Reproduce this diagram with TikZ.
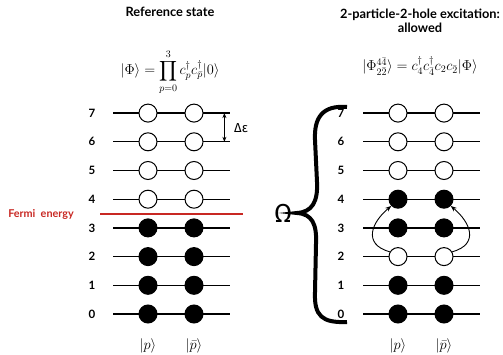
\documentclass[tikz,border=0pt]{standalone}
\usepackage{amsmath, amssymb}
\usepackage[no-math]{fontspec}
\setmainfont{Lato}
\newfontfamily\greekfont{Fira Sans}
\usepackage{xcolor}
\usetikzlibrary{arrows.meta, calc}

\definecolor{fermired}{RGB}{200,40,35}

\begin{document}
\begin{tikzpicture}[
    x=1pt, y=1pt,
    level/.style={draw, line width=1.2pt},
    orbit/.style={circle, draw, line width=1pt, minimum size=18pt, inner sep=0pt},
    empty/.style={orbit, fill=white},
    full/.style={orbit, fill=black},
    levelnum/.style={font=\bfseries\fontsize{11.5}{12}\selectfont},
    heading/.style={font=\bfseries\fontsize{12.8}{14}\selectfont, align=center},
    maths/.style={font=\fontsize{14}{16}\selectfont},
    ket/.style={font=\fontsize{14}{16}\selectfont},
    excite/.style={-{Stealth[length=6pt, width=4.5pt]}, line width=0.9pt},
    spacing/.style={{Stealth[length=5pt, width=4pt]}-{Stealth[length=5pt, width=4pt]}, line width=0.8pt}
]
\useasboundingbox (0,0) rectangle (503,354);

% Headings and formulas
\node[heading] (lefttitle) at (170,342) {Reference state};
\node[heading] (righttitle) at (420,333.5) {2-particle-2-hole excitation:\\allowed};
\node[maths] (leftformula) at (170,282) {$|\Phi\rangle = \displaystyle\prod_{p=0}^{3} c_p^\dagger c_{\bar p}^\dagger |0\rangle$};
\node[maths] (rightformula) at (420,288) {$|\Phi_{2\bar 2}^{4\bar 4}\rangle = c_4^\dagger c_{\bar 4}^\dagger c_2 c_{\bar 2} |\Phi\rangle$};

% Left column: reference state
\foreach \i in {0,...,7} {
    \pgfmathsetmacro{\yy}{40+28.7*\i}
    \coordinate (la\i) at (113,\yy);
    \coordinate (lb\i) at (230,\yy);
    \draw[level] (la\i) -- (lb\i);
    \node[levelnum] (ln\i) at (92,\yy) {\i};
}
\foreach \i in {0,...,3} {
    \pgfmathsetmacro{\yy}{40+28.7*\i}
    \node[full] (lp\i) at (148,\yy) {};
    \node[full] (lq\i) at (194,\yy) {};
}
\foreach \i in {4,...,7} {
    \pgfmathsetmacro{\yy}{40+28.7*\i}
    \node[empty] (lp\i) at (148,\yy) {};
    \node[empty] (lq\i) at (194,\yy) {};
}

% Level spacing
\coordinate (dtop) at ($(la7)!0.952!(lb7)$);
\coordinate (dbot) at ($(la6)!0.952!(lb6)$);
\draw[spacing] (dtop) -- (dbot);
\node[font=\greekfont\fontsize{13}{13}\selectfont] (deps) at (241,226) {Δε};

% Fermi level
\coordinate (fa) at (100,140);
\coordinate (fb) at (243,140);
\draw[fermired, line width=1.2pt] (fa) -- (fb);
\node[font=\bfseries\fontsize{10.8}{12}\selectfont, text=fermired] (fermi) at (41,140) {Fermi\ \ energy};

\node[ket] (lketp) at (148,8) {$|p\rangle$};
\node[ket] (lketq) at (194,8) {$|\bar p\rangle$};

% Right column: excited state
\foreach \i in {0,...,7} {
    \pgfmathsetmacro{\yy}{40+28.7*\i}
    \coordinate (ra\i) at (363,\yy);
    \coordinate (rb\i) at (480,\yy);
    \draw[level] (ra\i) -- (rb\i);
    \node[levelnum] (rn\i) at (341,\yy) {\i};
}
\foreach \i in {0,1,3,4} {
    \pgfmathsetmacro{\yy}{40+28.7*\i}
    \node[full] (rp\i) at (398,\yy) {};
    \node[full] (rq\i) at (444,\yy) {};
}
\foreach \i in {2,5,6,7} {
    \pgfmathsetmacro{\yy}{40+28.7*\i}
    \node[empty] (rp\i) at (398,\yy) {};
    \node[empty] (rq\i) at (444,\yy) {};
}

\draw[excite] (rp2.150) .. controls (362,110) and (372,132) .. (rp4.225);
\draw[excite] (rq2.30) .. controls (480,110) and (470,132) .. (rq4.-45);

\node[ket] (rketp) at (398,8) {$|p\rangle$};
\node[ket] (rketq) at (444,8) {$|\bar p\rangle$};

% Brace
\coordinate (btop) at (347,247);
\coordinate (btip) at (297,141);
\coordinate (bbot) at (347,32);
\draw[line width=4pt] (btop) .. controls (322,249) and (314,236) .. (315,214)
    -- (317,172) .. controls (318,152) and (312,142) .. (btip)
    .. controls (312,140) and (317,130) .. (316,110)
    -- (315,62) .. controls (314,38) and (322,31) .. (bbot);
\node[font=\greekfont\fontsize{26}{26}\selectfont] (omega) at (283,141) {Ω};

\end{tikzpicture}
\end{document}
